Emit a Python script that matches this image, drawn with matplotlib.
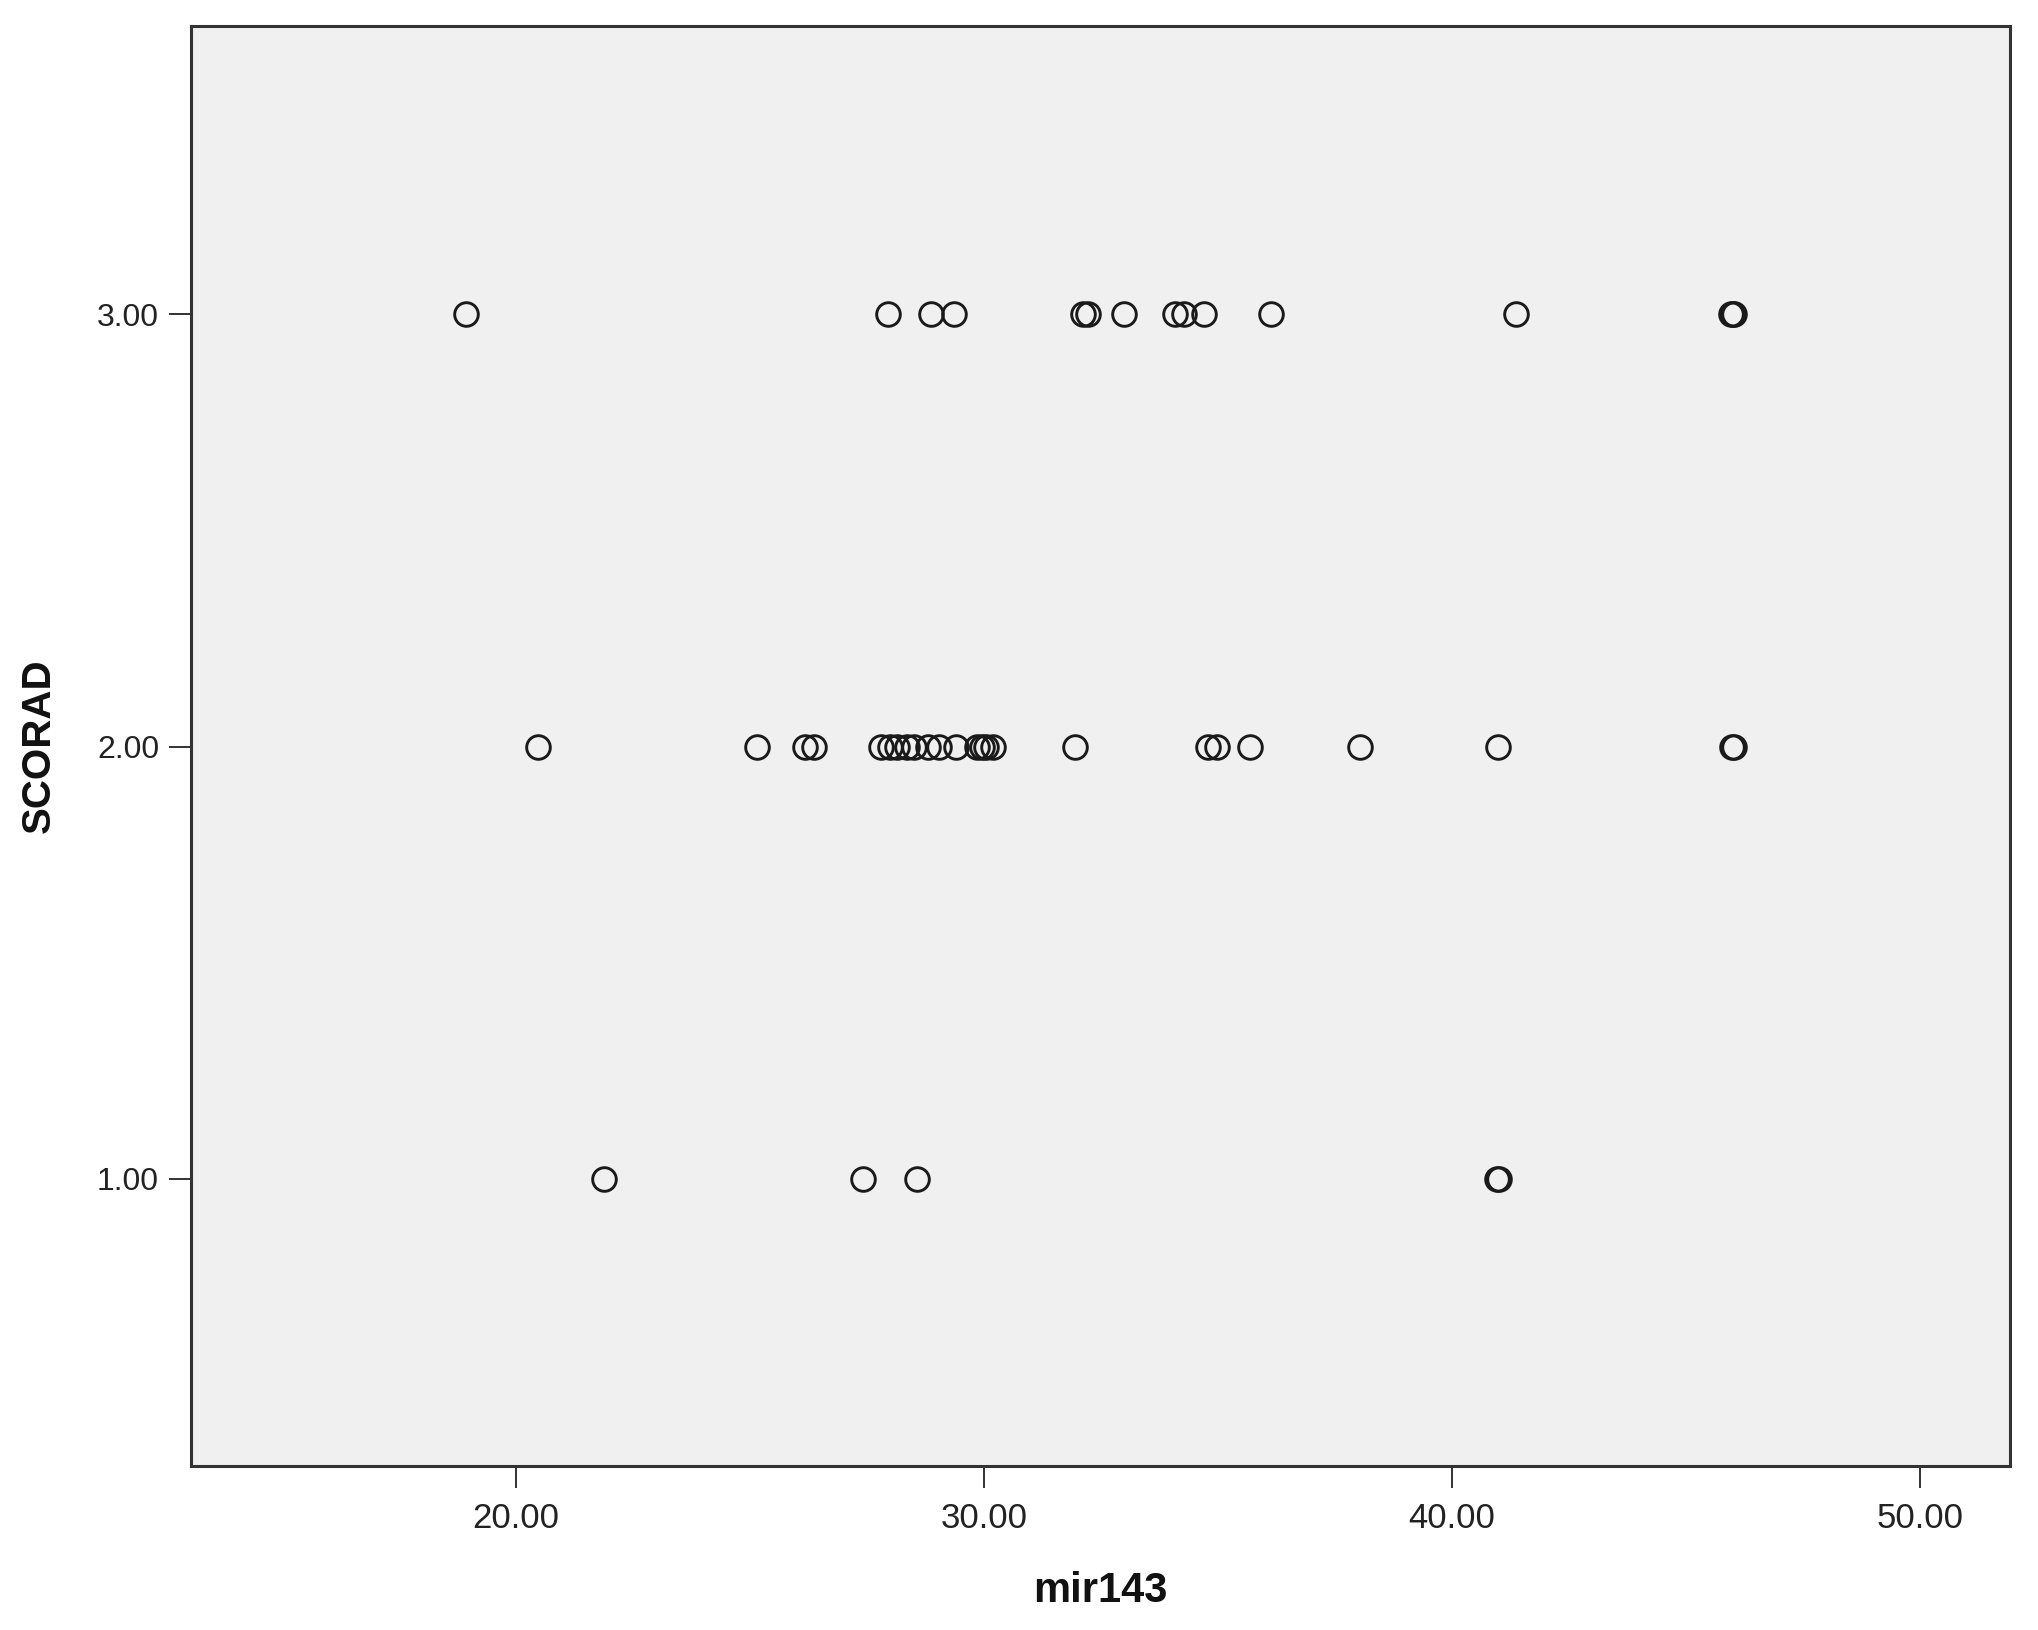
import matplotlib
matplotlib.use("Agg")
import matplotlib.pyplot as plt
from matplotlib import font_manager

# Data
scorad3_x = [18.93, 27.95, 28.87, 29.36, 32.12, 32.22, 32.99, 34.08, 34.27, 34.70, 36.13, 41.37, 45.96, 46.0, 46.03]
scorad2_x = [20.47, 25.15, 26.18, 26.38, 27.80, 28.0, 28.15, 28.35, 28.5, 28.8, 29.05, 29.4, 29.85, 29.95, 30.05, 30.2,
             31.95, 34.79, 34.98, 35.68, 38.04, 40.98, 45.98, 46.02]
scorad1_x = [21.88, 27.42, 28.57, 40.96, 41.0]
x_ticks = [20, 30, 40, 50]
y_ticks = [1, 2, 3]

names = {f.name for f in font_manager.fontManager.ttflist}
narrow = "Liberation Sans Narrow" if "Liberation Sans Narrow" in names else "Liberation Sans"
plt.rcParams["font.family"] = ["Liberation Sans", "DejaVu Sans"]

fig = plt.figure(figsize=(20.38, 16.30), dpi=100)
ax = fig.add_axes([0.0937, 0.1006, 0.8926, 0.8834])
ax.set_facecolor("#f0f0f0")

for xs, yv in [(scorad3_x, 3), (scorad2_x, 2), (scorad1_x, 1)]:
    ax.plot(xs, [yv] * len(xs), linestyle="none", marker="o", markersize=17,
            markerfacecolor="none", markeredgecolor="#1a1a1a", markeredgewidth=2.1)

ax.set_xlim(13.06, 51.92)
ax.set_ylim(0.336, 3.667)
ax.set_xticks(x_ticks)
ax.set_xticklabels([f"{v:.2f}" for v in x_ticks], family=[narrow, "DejaVu Sans"], fontsize=25)
ax.set_yticks(y_ticks)
ax.set_yticklabels([f"{v:.2f}" for v in y_ticks], fontsize=23)

for s in ax.spines.values():
    s.set_color("#333333")
    s.set_linewidth(2.2)

ax.tick_params(axis="both", direction="out", length=16, width=1.3, color="#222222",
               labelcolor="#222222", pad=7)
ax.tick_params(axis="x", pad=10)

ax.set_xlabel("mir143", fontsize=30, fontweight="bold", labelpad=26, color="#111111",
              family=[narrow, "DejaVu Sans"])
ax.set_ylabel("SCORAD", fontsize=29, fontweight="bold", labelpad=28, color="#111111")

fig.savefig("out.png", dpi=100, facecolor="white")
